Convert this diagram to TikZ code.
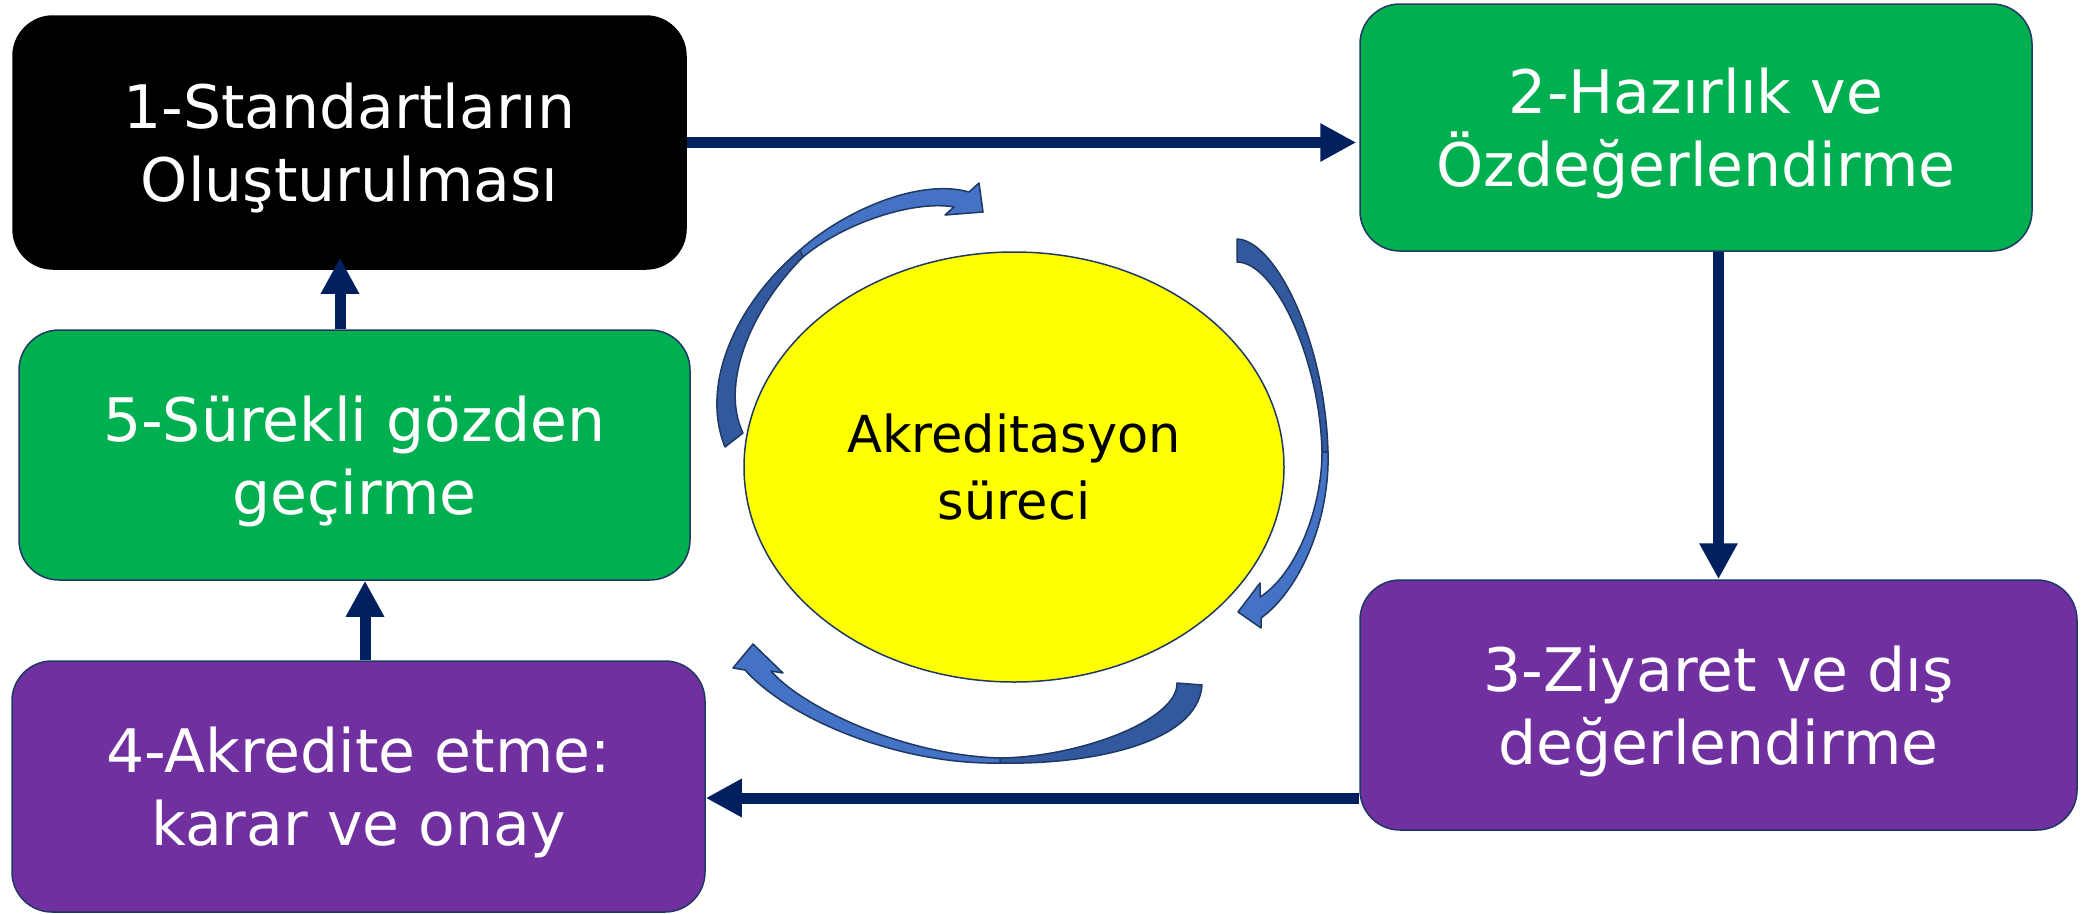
\documentclass[tikz,border=0pt]{standalone}
\usepackage{fontspec}
\setmainfont{DejaVu Sans}
\usetikzlibrary{arrows.meta,shapes.geometric}
\definecolor{boxgreen}{RGB}{0,176,80}
\definecolor{boxpurple}{RGB}{112,48,160}
\definecolor{flownavy}{RGB}{0,32,96}
\definecolor{rimnavy}{RGB}{31,56,100}
\definecolor{swirllight}{RGB}{68,114,196}
\definecolor{swirldark}{RGB}{50,88,158}
\definecolor{coreyellow}{RGB}{255,255,0}
\begin{document}
\begin{tikzpicture}[x=1pt,y=1pt,yscale=-1,
        stage/.style={draw=rimnavy,line width=1.5pt,rounded corners=40pt,text=white,align=center,inner sep=0pt,text depth=0pt,font=\fontsize{60}{73}\selectfont},
        flow/.style={draw=flownavy,line width=11pt,-{Triangle[length=36pt,width=36pt]}},
        swirl/.style={draw=rimnavy,line width=1.5pt,line join=round}]
        \useasboundingbox (0,0) rectangle (2085,913);
        \node[stage,fill=black,draw=black,minimum width=673pt,minimum height=253pt] (stand) at (349.5,142.5) {1-Standartların\\Oluşturulması};
        \node[stage,fill=boxgreen,minimum width=672pt,minimum height=247pt] (hazir) at (1696,127.5) {2-Hazırlık ve\\Özdeğerlendirme};
        \node[stage,fill=boxpurple,minimum width=717pt,minimum height=250pt] (ziyaret) at (1718.5,705) {3-Ziyaret ve dış\\değerlendirme};
        \node[stage,fill=boxpurple,minimum width=693pt,minimum height=251pt] (karar) at (358.5,786.5) {4-Akredite etme:\\karar ve onay};
        \node[stage,fill=boxgreen,minimum width=671pt,minimum height=250pt] (gozden) at (354.5,455) {5-Sürekli gözden\\geçirme};
        \node[ellipse,draw=rimnavy,line width=1.5pt,fill=coreyellow,minimum width=540pt,minimum height=430pt,align=center,font=\fontsize{51}{67}\selectfont] (surec) at (1014,467) {Akreditasyon\\süreci};
        \coordinate (k3) at ([yshift=93pt]ziyaret.west);
        \draw[flow] (stand.east) -- ([xshift=-3pt]hazir.west |- stand.east);
        \draw[flow] (hazir.south -| ziyaret.north) -- (ziyaret.north);
        \draw[flow] (k3) -- (k3 -| karar.east);
        \draw[flow] ([xshift=6.5pt]karar.north) -- ([xshift=10.5pt]gozden.south);
        \draw[flow] ([xshift=-14.5pt]gozden.north) -- ([xshift=-9.5pt,yshift=-12pt]stand.south);
        \filldraw[swirl,fill=swirldark] (725,447) .. controls (700,385) and (735,305) .. (800,250) -- (803,257) .. controls (750,310) and (720,385) .. (743,433) -- cycle;
        \filldraw[swirl,fill=swirllight] (800,250) .. controls (845,210) and (920,178) .. (969,192) -- (979,183) -- (983,212) -- (945,215) -- (954,207) .. controls (915,200) and (845,222) .. (803,257) -- cycle;
        \filldraw[swirl,fill=swirldark] (1237,239) .. controls (1275,240) and (1325,340) .. (1328,452) -- (1322,452) .. controls (1320,360) and (1275,262) .. (1237,262) -- cycle;
        \filldraw[swirl,fill=swirllight] (1328,452) .. controls (1330,520) and (1300,590) .. (1261,618) -- (1261,628) -- (1238,612) -- (1260,583) -- (1260,597) .. controls (1295,575) and (1322,510) .. (1322,452) -- cycle;
        \filldraw[swirl,fill=swirldark] (1202,685) .. controls (1198,745) and (1085,765) .. (1000,763) -- (1000,758) .. controls (1080,757) and (1178,720) .. (1177,683) -- cycle;
        \filldraw[swirl,fill=swirllight] (1000,763) .. controls (900,765) and (790,720) .. (745,670) -- (733,668) -- (753,644) -- (783,673) -- (771,671) .. controls (800,705) and (900,755) .. (1000,758) -- cycle;
\end{tikzpicture}
\end{document}
